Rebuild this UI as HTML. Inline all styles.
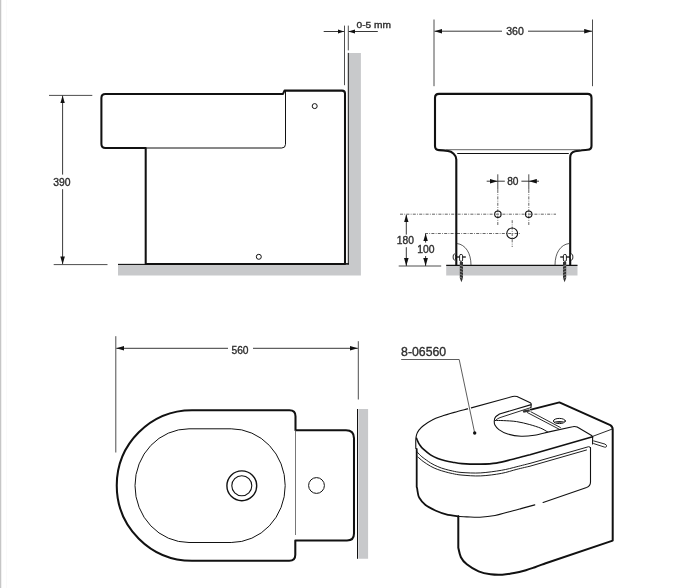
<!DOCTYPE html>
<html><head><meta charset="utf-8">
<style>
html,body{margin:0;padding:0;background:#fff;}
body{width:677px;height:588px;overflow:hidden;}
svg{display:block;will-change:transform;}
text{font-family:"Liberation Sans",sans-serif;fill:#2e2e2e;stroke:#2e2e2e;stroke-width:0.35px;}
</style></head>
<body>
<svg width="677" height="588" viewBox="0 0 677 588">
<defs>
<marker id="ar" viewBox="0 0 7.8 4.6" refX="7.8" refY="2.3" markerWidth="7.8" markerHeight="4.6" markerUnits="userSpaceOnUse" orient="auto">
<path d="M0,0 L7.8,2.3 L0,4.6 z" fill="#111"/>
</marker>
<marker id="as" viewBox="0 0 6.6 4.2" refX="6.6" refY="2.1" markerWidth="6.6" markerHeight="4.2" markerUnits="userSpaceOnUse" orient="auto">
<path d="M0,0 L6.6,2.1 L0,4.2 z" fill="#111"/>
</marker>
<g id="screw">
<path d="M456.9 243.5 C465.5 244.6 471 253 471 265.2" fill="none" stroke="#333" stroke-width="0.8"/>
<line x1="455" y1="257" x2="465.8" y2="257" stroke="#111" stroke-width="1.3"/>
<ellipse cx="454.4" cy="257" rx="1.3" ry="3" fill="#fff" stroke="#111" stroke-width="0.9"/>
<rect x="459.6" y="254.4" width="3" height="7" rx="1.4" fill="#fff" stroke="#111" stroke-width="0.9"/>
<path d="M459.8 262 H463 V278 L461.4 282.3 L459.8 278 Z" fill="#333"/>
<path d="M459.6 265 L463.2 266.5 M459.6 268 L463.2 269.5 M459.6 271 L463.2 272.5 M459.6 274 L463.2 275.5 M459.6 277 L463.2 278.5" stroke="#bbb" stroke-width="0.6"/>
</g>
</defs>
<rect x="0" y="0" width="1" height="588" fill="#c6c6c6"/>
<rect x="1" y="0" width="1" height="588" fill="#f0f0f0"/>
<rect x="6" y="0" width="1" height="588" fill="#fafafa"/>

<!-- ============ SIDE VIEW ============ -->
<g id="side">
<path d="M118 264.6 H348.8 V52.9 H360.9 V275.4 H118 Z" fill="#c8c9cb"/>
<line x1="348.3" y1="52.9" x2="348.3" y2="264.6" stroke="#111" stroke-width="1"/>
<line x1="345" y1="263.9" x2="348.8" y2="263.9" stroke="#111" stroke-width="1.6"/>
<line x1="118" y1="264.4" x2="146" y2="264.4" stroke="#111" stroke-width="1.1"/>
<g stroke="#4e4e4e" stroke-width="1" fill="none">
<line x1="49" y1="95.4" x2="92.3" y2="95.4"/>
<line x1="53.7" y1="264.6" x2="107.5" y2="264.6"/>
<line x1="344.5" y1="25.6" x2="344.5" y2="85.2"/>
<line x1="348.3" y1="25.6" x2="348.3" y2="50.4"/>
</g>
<g stroke="#222" stroke-width="0.9" fill="none">
<line x1="62.6" y1="174.6" x2="62.6" y2="95.6" marker-end="url(#ar)"/>
<line x1="62.6" y1="189.2" x2="62.6" y2="264.2" marker-end="url(#ar)"/>
<line x1="323.7" y1="31.5" x2="344.2" y2="31.5" marker-end="url(#as)"/>
<line x1="377.8" y1="31.5" x2="348.6" y2="31.5" marker-end="url(#as)"/>
</g>
<text x="62" y="185.9" font-size="10" text-anchor="middle" textLength="17.3" lengthAdjust="spacingAndGlyphs">390</text>
<text x="356.6" y="27.7" font-size="9.1" textLength="34.4" lengthAdjust="spacingAndGlyphs">0-5 mm</text>
<g fill="none" stroke="#111" stroke-linejoin="round">
<path d="M105.4 93.9 H283 L284.5 90.6 H342 Q345 90.6 345 93.6 V264 H145.7 V148 H105.4 Q101.4 148 101.4 144 V97.9 Q101.4 93.9 105.4 93.9 Z" stroke-width="2.05"/>
<path d="M146 148 H281.8 Q285.5 148 285.5 144.3 V91" stroke-width="1"/>
<circle cx="314.7" cy="106.1" r="2.5" stroke-width="1"/>
<circle cx="258.8" cy="256.8" r="2.5" stroke-width="1"/>
</g>
</g>

<!-- ============ FRONT VIEW ============ -->
<g id="front">
<path d="M446.2 265.6 H577.5 V275.5 H446.2 Z" fill="#c8c9cb"/>
<line x1="446.2" y1="265.4" x2="577.5" y2="265.4" stroke="#111" stroke-width="1.2"/>
<g stroke="#4e4e4e" stroke-width="1" fill="none">
<line x1="434" y1="19.5" x2="434" y2="86.2"/>
<line x1="592.5" y1="19.5" x2="592.5" y2="86.2"/>
<line x1="398.7" y1="266" x2="441.2" y2="266"/>
<line x1="497.8" y1="174.3" x2="497.8" y2="189.8"/>
<line x1="528.8" y1="174.3" x2="528.8" y2="189.8"/>
</g>
<g stroke="#222" stroke-width="0.9" fill="none">
<line x1="502" y1="31.2" x2="434.5" y2="31.2" marker-end="url(#ar)"/>
<line x1="528" y1="31.2" x2="592" y2="31.2" marker-end="url(#ar)"/>
<line x1="406.3" y1="234.6" x2="406.3" y2="214.6" marker-end="url(#ar)"/>
<line x1="406.3" y1="247.2" x2="406.3" y2="265.9" marker-end="url(#ar)"/>
<line x1="425.6" y1="242.6" x2="425.6" y2="233.5" marker-end="url(#ar)"/>
<line x1="425.6" y1="256" x2="425.6" y2="265.9" marker-end="url(#ar)"/>
<line x1="486.7" y1="181.2" x2="497.6" y2="181.2" marker-end="url(#ar)"/>
<line x1="497.6" y1="181.2" x2="504.8" y2="181.2"/>
<line x1="539" y1="181.2" x2="529" y2="181.2" marker-end="url(#ar)"/>
<line x1="529" y1="181.2" x2="521.4" y2="181.2"/>
</g>
<g stroke="#555" stroke-width="0.9" fill="none" stroke-dasharray="3 1.3 0.8 1.3">
<line x1="400" y1="214.2" x2="556" y2="214.2"/>
<line x1="425" y1="233.5" x2="520.2" y2="233.5"/>
<line x1="497.8" y1="190" x2="497.8" y2="225.3"/>
<line x1="528.8" y1="190" x2="528.8" y2="225.3"/>
<line x1="512.2" y1="220.2" x2="512.2" y2="247"/>
</g>
<text x="515" y="34.8" font-size="10" text-anchor="middle" textLength="17.6" lengthAdjust="spacingAndGlyphs">360</text>
<text x="512.8" y="184.6" font-size="10" text-anchor="middle" textLength="11.3" lengthAdjust="spacingAndGlyphs">80</text>
<text x="405.4" y="243.7" font-size="10" text-anchor="middle" textLength="17.1" lengthAdjust="spacingAndGlyphs">180</text>
<text x="426" y="252.7" font-size="10" text-anchor="middle" textLength="17.3" lengthAdjust="spacingAndGlyphs">100</text>
<g fill="none" stroke="#111" stroke-linejoin="round">
<path d="M456.3 265.4 V159.5 C456.3 155 452 151.5 447.8 150.9 C445 150.4 442 150.1 439 150.1 Q435 150.1 435 146.1 V97.9 Q435 93.9 439 93.9 H587.5 Q591.5 93.9 591.5 97.9 V146 Q591.5 149.5 587.5 149.8 C583 150.2 578.5 150.5 575 151.3 C571.5 152.2 570.2 154 570.2 157.5 V265.4" stroke-width="2.1"/>
<path d="M446 149.7 H580" stroke-width="1" stroke="#666"/>
<path d="M457.2 153.5 H568.8" stroke-width="1.15"/>
<circle cx="497.9" cy="214.2" r="3.2" stroke-width="1.1"/>
<circle cx="528.7" cy="214.2" r="3.2" stroke-width="1.1"/>
<circle cx="512.2" cy="233.4" r="5.4" stroke-width="1.1"/>
</g>
<use href="#screw"/>
<use href="#screw" transform="translate(1026 0) scale(-1 1)"/>
</g>

<!-- ============ TOP VIEW ============ -->
<g id="top">
<path d="M358.4 409 H368.1 V558.8 H358.4 Z" fill="#c8c9cb"/>
<line x1="357.5" y1="409" x2="357.5" y2="558.8" stroke="#111" stroke-width="1"/>
<g stroke="#4e4e4e" stroke-width="1" fill="none">
<line x1="115.8" y1="336.2" x2="115.8" y2="452.5"/>
<line x1="358.3" y1="341.2" x2="358.3" y2="399.5"/>
</g>
<g stroke="#222" stroke-width="0.9" fill="none">
<line x1="228" y1="348.3" x2="116.3" y2="348.3" marker-end="url(#ar)"/>
<line x1="253" y1="348.3" x2="357.8" y2="348.3" marker-end="url(#ar)"/>
</g>
<text x="240" y="353.8" font-size="10" text-anchor="middle" textLength="17.1" lengthAdjust="spacingAndGlyphs">560</text>
<g fill="none" stroke="#111" stroke-linejoin="round">
<path d="M192 410.2 H289.5 Q295.5 410.2 295.5 416.2 V430.2 H346 Q354 430.2 354 438.2 V533.5 Q354 540.5 347 540.5 H295.3 V554.8 Q295.3 560.8 289.3 560.8 H192 A75.3 75.3 0 0 1 192 410.2 Z" stroke-width="2.05"/>
<rect x="135" y="428.8" width="150.2" height="113.7" rx="54" ry="56.85" stroke-width="1"/>
<line x1="295.5" y1="430.2" x2="295.5" y2="535" stroke-width="0.8" stroke="#555"/>
<circle cx="241.8" cy="485.8" r="14.9" stroke-width="1.4"/>
<circle cx="241.8" cy="485.8" r="10" stroke-width="1.1"/>
<circle cx="316.5" cy="485.5" r="7.9" stroke-width="1"/>
</g>
</g>

<!-- ============ 3D VIEW ============ -->
<g id="persp">
<text x="401.1" y="356" font-size="12" textLength="45.1" lengthAdjust="spacingAndGlyphs">8-06560</text>
<g fill="none" stroke="#111" stroke-linejoin="round" stroke-linecap="round">
<path d="M415.8 448.5 C415.8 447.1 415.7 442.2 415.8 439.9 C415.9 437.6 416.1 436.2 416.6 434.6 C417.1 433.0 417.8 431.6 418.9 430.1 C420.0 428.6 421.1 427.4 423.3 425.7 C425.5 424.0 429.2 421.4 432.2 419.9 C435.1 418.3 437.3 417.6 441.0 416.4 C444.7 415.1 449.9 413.6 454.3 412.4 C458.7 411.1 465.4 409.5 467.6 408.9 L512.6 396.5 Q514.8 395.9 517 396.6 L530.3 402.8 Q531.6 403.6 531.2 405.2 L530.9 407.6 M531.2 404.6 L499.5 414.0 C498.9 414.5 496.5 415.7 495.6 416.8 C494.7 417.9 494.4 419.3 494.3 420.7 C494.2 422.1 494.1 423.6 494.9 425.1 C495.7 426.6 496.8 428.1 498.9 429.6 C501.0 431.1 504.0 432.9 507.7 434.0 C511.4 435.1 516.6 436.0 521.0 436.2 C525.4 436.4 530.0 435.9 534.3 435.3 C538.6 434.7 544.6 432.9 546.7 432.4 L572.6 426.7 Q575 426.1 577.2 427.1 L591.6 435.4 Q592.6 436 592.6 437.2 V444" stroke-width="1.1"/>
<path d="M530.8 407.6 L500 417.6 Q497.3 418.6 496.2 419.8" stroke-width="0.9"/>
<path d="M495.3 420.5 C496.6 420.5 499.8 420.4 503.3 420.6 C506.9 420.8 512.2 420.9 516.6 421.6 C521.0 422.3 525.8 423.5 529.8 424.6 C533.8 425.7 537.8 427.0 540.8 428.2 C543.8 429.4 546.4 431.3 547.5 431.9" stroke-width="1"/>
<path d="M416.6 438.3 C416.7 438.6 416.7 439.0 417.2 440.0 C417.7 441.0 418.4 442.9 419.4 444.4 C420.4 445.9 421.2 447.2 423.1 448.9 C425.0 450.6 428.1 453.2 430.5 454.8 C432.9 456.4 435.4 457.5 437.8 458.5 C440.2 459.5 442.7 460.1 445.2 460.7 C447.7 461.3 449.8 461.7 452.6 462.2 C455.4 462.7 457.3 463.3 462.0 463.6 C466.7 463.9 475.0 464.2 480.7 464.1 C486.4 464.0 491.0 463.9 496.2 463.1 C501.4 462.3 506.9 460.7 511.7 459.5 C516.5 458.3 522.0 456.8 525.0 456.0 C528.0 455.2 529.2 454.9 530.0 454.7 L592.6 436.8" stroke-width="1.6"/>
<path d="M416.8 451.5 C417.2 452.0 418.3 453.4 419.4 454.4 C420.4 455.4 421.2 456.3 423.1 457.7 C425.0 459.1 428.1 461.4 430.5 462.9 C432.9 464.4 435.4 465.6 437.8 466.6 C440.2 467.7 442.7 468.5 445.2 469.2 C447.7 469.9 449.8 470.4 452.6 471.0 C455.4 471.6 457.3 472.2 462.0 472.5 C466.7 472.8 474.1 473.3 480.7 472.9 C487.3 472.5 495.4 471.3 501.4 470.3 C507.4 469.3 512.1 467.9 516.9 466.7 C521.7 465.5 527.8 463.9 530.0 463.4 L588.6 446.7 Q590.3 446.4 590.4 448" stroke-width="0.95"/>
<path d="M417.9 457.0 C418.8 457.7 421.0 459.9 423.1 461.4 C425.2 462.9 428.1 464.8 430.5 466.2 C432.9 467.6 435.4 468.6 437.8 469.5 C440.2 470.4 442.7 471.1 445.2 471.8 C447.7 472.5 449.8 473.1 452.6 473.6 C455.4 474.2 457.3 474.7 462.0 475.1 C466.7 475.5 474.1 476.2 480.7 475.9 C487.3 475.6 495.4 474.5 501.4 473.4 C507.4 472.3 512.1 470.5 516.9 469.3 C521.7 468.1 527.8 466.7 530.0 466.2 L586.5 450" stroke-width="0.95"/>
<path d="M416.7 449 V487 C417.3 487.8 417.2 489.7 417.6 491.5 C418.0 493.3 418.0 495.6 419.3 497.8 C420.6 500.1 422.7 502.9 425.5 505.0 C428.3 507.1 432.4 509.1 435.9 510.7 C439.3 512.2 442.4 513.4 446.2 514.3 C449.9 515.2 456.4 516.0 458.4 516.3" stroke-width="1.8"/>
<path d="M458.4 516.3 C459.8 516.4 463.3 516.8 466.9 516.9 C470.5 517.0 475.3 517.4 480.0 517.2 C484.7 517.0 490.3 516.4 495.0 515.5 C499.7 514.6 504.0 513.1 508.3 512.0 C512.6 510.9 516.6 509.8 521.0 508.6 C525.4 507.4 532.5 505.5 534.8 504.9" stroke-width="1.1"/>
<path d="M543.1 502.5 L586.6 487.5 Q590.5 486 590.5 482 V447.5" stroke-width="1.1"/>
<path d="M458.3 516.3 V547.7 C458.7 549.3 459.5 554.4 460.9 557.2 C462.3 560.0 463.9 561.9 466.8 564.3 C469.8 566.7 474.7 569.7 478.6 571.4 C482.6 573.1 486.6 573.8 490.5 574.3 C494.4 574.8 498.4 574.9 502.3 574.7 C506.2 574.5 510.2 573.9 514.1 573.1 C518.0 572.4 522.4 571.2 525.9 570.2 C529.4 569.2 531.8 568.3 535.0 567.2 C538.2 566.1 543.3 564.1 545.0 563.5 L612.7 540.6 V429.5 Q612.7 426.5 610.3 425.1 L559.4 402.4 L530.9 409.6" stroke-width="2"/>
<path d="M592.6 436.4 L611.6 429.3" stroke-width="0.9"/>
<path d="M527.4 412.6 L559.3 429.3 M530.9 411.8 L560.4 427.5" stroke-width="0.9"/>
<path d="M593.7 440.9 L605 444.1 Q607.4 445.2 606.3 446.8 Q605.6 447.5 604.5 447.1 L593.7 443.6" stroke-width="0.9"/>
<path d="M522.5 410.6 L529.5 409.2 L530 411.6 L523.5 412.8 Z" fill="#333" stroke="none"/>
<ellipse cx="559.4" cy="421" rx="6" ry="2.6" stroke-width="1"/>
<path d="M554 421.8 Q559.4 420 564.8 421.8 Q559.4 423.8 554 421.8 Z" fill="#222" stroke="none"/>

</g>
<path d="M401.2 359.5 H459.2 L474.7 433" fill="none" stroke="#fff" stroke-width="3"/>
<path d="M401.2 359.5 H459.2 L474.7 433" fill="none" stroke="#333" stroke-width="0.8"/>
<circle cx="474.7" cy="433" r="1.7" fill="#111"/>
</g>
</svg>
</body></html>
